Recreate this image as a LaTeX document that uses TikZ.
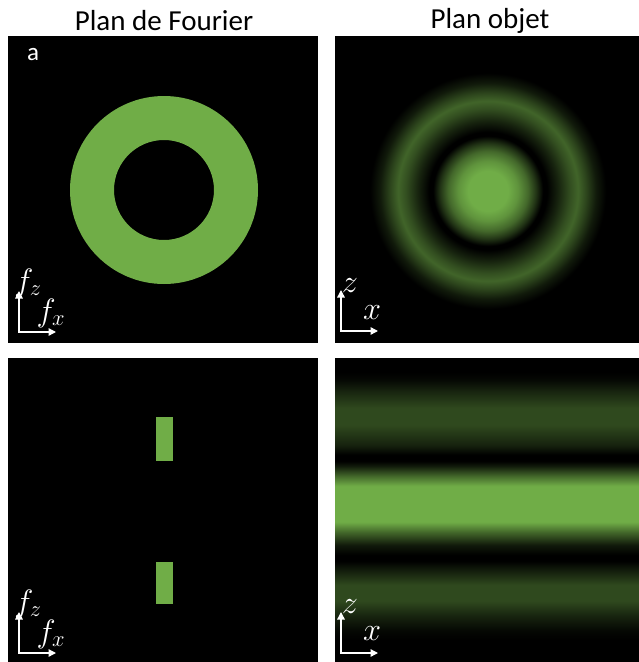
\documentclass[tikz,border=0pt]{standalone}
\usepackage{graphicx}
\usepackage{fontspec}
\setmainfont{Carlito}
\usetikzlibrary{arrows.meta}
\definecolor{gr}{HTML}{70AD47}
\colorlet{g85}{gr!85!black}
\colorlet{g60}{gr!60!black}
\colorlet{g58}{gr!58!black}
\colorlet{g45}{gr!45!black}
\colorlet{g42}{gr!42!black}
\colorlet{g40}{gr!40!black}
\colorlet{g30}{gr!30!black}
\colorlet{g22}{gr!22!black}
\colorlet{g20}{gr!20!black}
\colorlet{g15}{gr!15!black}
\colorlet{g5}{gr!5!black}
\pgfdeclareradialshading{airy}{\pgfpoint{0bp}{0bp}}{%
color(0bp)=(gr); color(4.17bp)=(gr); color(6.25bp)=(g85); color(8.33bp)=(g60);
color(10bp)=(g30); color(11.46bp)=(black); color(12.29bp)=(black);
color(14.58bp)=(g20); color(17.08bp)=(g45); color(18.75bp)=(g58);
color(20.42bp)=(g40); color(22.5bp)=(g15); color(24.58bp)=(black); color(50bp)=(black)}
\pgfdeclareverticalshading{bands}{100bp}{%
color(0bp)=(black); color(28.62bp)=(black); color(30.26bp)=(g5);
color(32.73bp)=(g22); color(35.03bp)=(g42); color(37.66bp)=(g42);
color(39.80bp)=(g20); color(41.61bp)=(black); color(42.60bp)=(black);
color(44.24bp)=(g15); color(46.38bp)=(g60); color(48.03bp)=(gr);
color(53.95bp)=(gr); color(55.59bp)=(g60); color(57.24bp)=(g15);
color(58.06bp)=(black); color(59.05bp)=(black); color(60.69bp)=(g20);
color(63.98bp)=(g42); color(66.78bp)=(g42); color(69.41bp)=(g22);
color(71.38bp)=(g5); color(72.70bp)=(black); color(100bp)=(black)}
\newcommand{\axtxt}[1]{\scalebox{1.3}{$#1$}}
\begin{document}
\begin{tikzpicture}[x=1pt,y=-1pt,
  panel/.style={fill=black},
  ax/.style={white,line width=1.4pt,line join=miter,{Triangle[length=7.5pt,width=7.5pt]}-{Triangle[length=7.5pt,width=7.5pt]}},
  axlab/.style={text=white,inner sep=0pt,font=\fontsize{24}{24}\selectfont},
  title/.style={inner sep=0pt,font=\fontsize{29}{29}\selectfont}]
\useasboundingbox (0,0) rectangle (639,662);
\fill[white] (0,0) rectangle (639,662);
% panels
\fill[panel] (8,36) rectangle (318,343);
\fill[panel] (335,36) rectangle (639,343);
\fill[panel] (8,358) rectangle (318,662);
\shade[shading=bands] (335,358) rectangle (639,662);
% titles
\node[title] (t1) at (164,21) {Plan de Fourier};
\node[title] (t2) at (490,21) {Plan objet};
\node[inner sep=0pt,text=white,font=\fontsize{25}{25}\selectfont] (la) at (33,55) {a};
% Fourier ring
\fill[gr,even odd rule] (164,190) circle[radius=94] (164,190) circle[radius=50];
% object plane airy pattern
\begin{scope}
\clip (335,36) rectangle (639,343);
\shade[shading=airy] (488,191) circle[radius=120];
\end{scope}
% Fourier slits
\fill[gr] (156,417) rectangle (173,461);
\fill[gr] (156,562) rectangle (173,604);
% axes
\foreach \ox/\oy/\n in {19/332/a, 341/331/b, 19/653/c, 341/653/d}{
  \coordinate (o\n) at (\ox,\oy);
  \coordinate (v\n) at (\ox,\oy-41);
  \coordinate (h\n) at (\ox+37,\oy);
  \draw[ax] (v\n) -- (o\n) -- (h\n);
}
\node[axlab] (fz1) at (28,283) {\axtxt{f_z}};
\node[axlab] (fx1) at (51,313) {\axtxt{f_x}};
\node[axlab] (z1) at (350,286) {\axtxt{z}};
\node[axlab] (x1) at (372,313) {\axtxt{x}};
\node[axlab] (fz2) at (28,604) {\axtxt{f_z}};
\node[axlab] (fx2) at (51,634) {\axtxt{f_x}};
\node[axlab] (z2) at (350,607) {\axtxt{z}};
\node[axlab] (x2) at (372,634) {\axtxt{x}};
\end{tikzpicture}
\end{document}
